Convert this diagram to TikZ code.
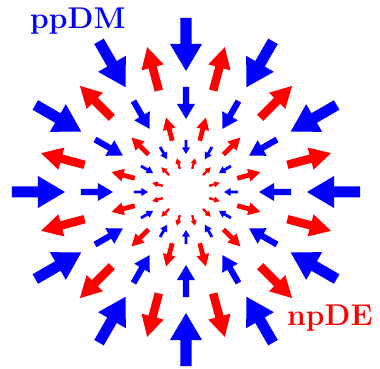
\documentclass[tikz,border=0pt]{standalone}
\usepackage{tikz}
\definecolor{dmblue}{HTML}{0000FF}
\definecolor{dered}{HTML}{FF0000}
% colour, angle, tail radius, tip radius, shaft width, head length, head width
\newcommand{\flowarrow}[7]{%
  \fill[#1, rotate=#2] (#3,{-#5/2}) -- ({#4-#6*sign(#4-#3)},{-#5/2}) -- ({#4-#6*sign(#4-#3)},{-#7/2})
    -- (#4,0) -- ({#4-#6*sign(#4-#3)},{#7/2}) -- ({#4-#6*sign(#4-#3)},{#5/2}) -- (#3,{#5/2}) -- cycle;}

\begin{document}
\begin{tikzpicture}[x=1pt, y=1pt,
    tag/.style={anchor=base west, inner sep=0pt, font=\fontsize{30}{30}\selectfont\bfseries}]
    \useasboundingbox (-186,-177) rectangle (194,192);

    % Inward (blue) rings
    \foreach \a in {0,30,...,330} \flowarrow{dmblue}{\a}{174}{121}{11}{27}{32};
    \foreach \a in {0,30,...,330} \flowarrow{dmblue}{\a}{105}{73}{6.2}{15}{18};
    \foreach \a in {0,30,...,330} \flowarrow{dmblue}{\a}{52}{38}{2.8}{6.5}{8};

    % Outward (red) rings
    \foreach \a in {15,45,...,345} \flowarrow{dered}{\a}{105}{150}{8.5}{21}{23};
    \foreach \a in {15,45,...,345} \flowarrow{dered}{\a}{53}{77}{4.8}{12}{13};
    \foreach \a in {15,45,...,345} \flowarrow{dered}{\a}{24}{35}{2.3}{5.5}{6.2};

    % Labels
    \node[tag, dmblue] (ppdm) at (-156,163) {ppDM};
    \node[tag, dered] (npde) at (101,-133) {npDE};
\end{tikzpicture}
\end{document}
